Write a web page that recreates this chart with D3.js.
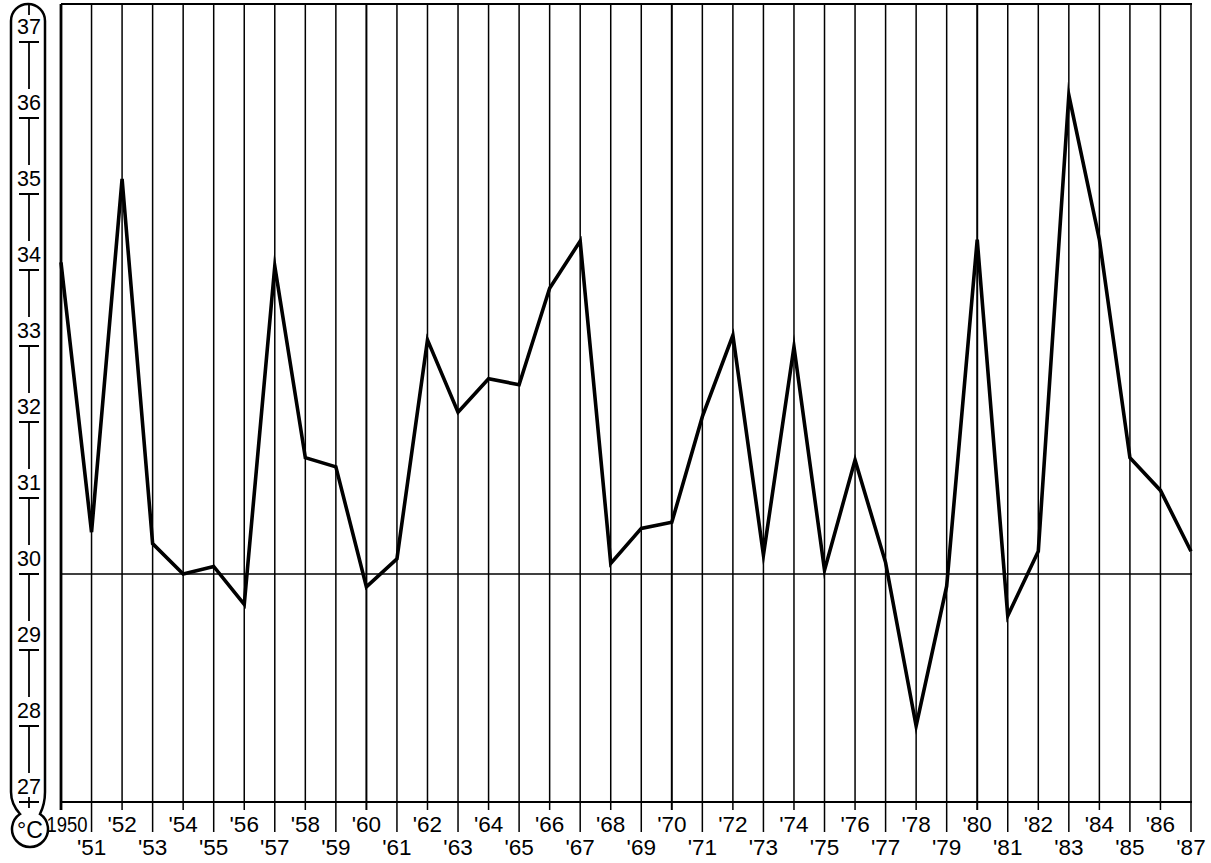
<!DOCTYPE html>
<html><head><meta charset="utf-8">
<script src="https://cdn.jsdelivr.net/npm/d3@7"></script>
<style>html,body{margin:0;padding:0;background:#fff;}svg{display:block;}</style>
</head><body>
<svg id="chart" width="1211" height="863"></svg>
<script>
const years = d3.range(1950, 1988);
const temps = [34.1, 30.55, 35.2, 30.4, 30.0, 30.1, 29.6, 34.05, 31.53, 31.41,
  29.83, 30.2, 33.08, 32.13, 32.57, 32.49, 33.76, 34.38, 30.14, 30.6,
  30.68, 32.07, 33.14, 30.25, 32.99, 30.05, 31.5, 30.15, 28.0, 29.84,
  34.4, 29.45, 30.3, 36.3, 34.4, 31.53, 31.1, 30.3];
const yearLabels = ["1950","'51","'52","'53","'54","'55","'56","'57","'58","'59",
  "'60","'61","'62","'63","'64","'65","'66","'67","'68","'69",
  "'70","'71","'72","'73","'74","'75","'76","'77","'78","'79",
  "'80","'81","'82","'83","'84","'85","'86","'87"];
const tempTicks = [27, 28, 29, 30, 31, 32, 33, 34, 35, 36, 37];
const baseline = 30;
const unitLabel = "°C";

const svg = d3.select("#chart");
const font = "'Liberation Sans', Arial, Helvetica, sans-serif";
const x = d3.scaleLinear().domain([1950, 1987]).range([61, 1191]);
const y = d3.scaleLinear().domain([27, 37.5]).range([802, 4]);

// vertical grid lines / ticks
svg.append("g").selectAll("line").data(years).join("line")
  .attr("x1", d => x(d)).attr("x2", d => x(d))
  .attr("y1", y(37.5))
  .attr("y2", (d, i) => i % 2 === 0 ? 810 : 832)
  .attr("stroke", "#000")
  .attr("stroke-width", (d, i) => i === 0 ? 2.8 : (d % 10 === 0 ? 2 : 1.5));

// frame lines
svg.append("line").attr("x1", x(1950)).attr("x2", x(1987) + 1).attr("y1", y(37.5)).attr("y2", y(37.5))
  .attr("stroke", "#000").attr("stroke-width", 2.2);
svg.append("line").attr("x1", x(1950)).attr("x2", x(1987) + 1).attr("y1", y(27)).attr("y2", y(27))
  .attr("stroke", "#000").attr("stroke-width", 2.2);
svg.append("line").attr("x1", x(1950)).attr("x2", x(1987) + 1).attr("y1", y(baseline)).attr("y2", y(baseline))
  .attr("stroke", "#000").attr("stroke-width", 1.6);

// year labels
svg.append("g").selectAll("text").data(years).join("text")
  .attr("x", (d, i) => i === 0 ? x(d) + 6 : x(d))
  .attr("y", (d, i) => i % 2 === 0 ? 832 : 855)
  .attr("text-anchor", "middle")
  .attr("font-family", font).attr("font-size", 22.5)
  .attr("textLength", (d, i) => i === 0 ? 41 : null)
  .attr("lengthAdjust", "spacingAndGlyphs")
  .attr("fill", "#000")
  .text((d, i) => yearLabels[i]);

// data line
svg.append("path").datum(years.map((d, i) => [d, temps[i]]))
  .attr("fill", "none").attr("stroke", "#000").attr("stroke-width", 3.6)
  .attr("stroke-linejoin", "miter").attr("stroke-miterlimit", 10)
  .attr("d", d3.line().x(d => x(d[0])).y(d => y(d[1])));

// thermometer
const therm = svg.append("g");
therm.append("path")
  .attr("d", "M11,21 A17,17 0 0 1 45,21 L45,792 Q45,804 40,814 A18,18 0 1 1 20,814 Q11,804 11,792 Z")
  .attr("fill", "none").attr("stroke", "#000").attr("stroke-width", 2.5);
const cx = 29;
therm.append("line").attr("x1", cx).attr("x2", cx).attr("y1", 4).attr("y2", y(37) - 27)
  .attr("stroke", "#000").attr("stroke-width", 1.8);
therm.append("g").selectAll("line").data(tempTicks.filter(t => t > 27)).join("line")
  .attr("x1", cx).attr("x2", cx)
  .attr("y1", d => y(d)).attr("y2", d => y(d - 1) - 29)
  .attr("stroke", "#000").attr("stroke-width", 1.8);
therm.append("line").attr("x1", cx).attr("x2", cx).attr("y1", y(27) - 5).attr("y2", y(27) + 6)
  .attr("stroke", "#000").attr("stroke-width", 1.8);
therm.append("g").selectAll("line").data(tempTicks).join("line")
  .attr("x1", 19).attr("x2", 39)
  .attr("y1", d => y(d)).attr("y2", d => y(d))
  .attr("stroke", "#000").attr("stroke-width", 2);
therm.append("g").selectAll("text").data(tempTicks).join("text")
  .attr("x", cx).attr("y", d => y(d) - 8)
  .attr("text-anchor", "middle")
  .attr("font-family", font).attr("font-size", 21.5).attr("fill", "#000")
  .text(d => d);
therm.append("text").attr("x", 30).attr("y", 838)
  .attr("text-anchor", "middle")
  .attr("font-family", font).attr("font-size", 23).attr("fill", "#000")
  .text(unitLabel);
</script>
</body></html>
